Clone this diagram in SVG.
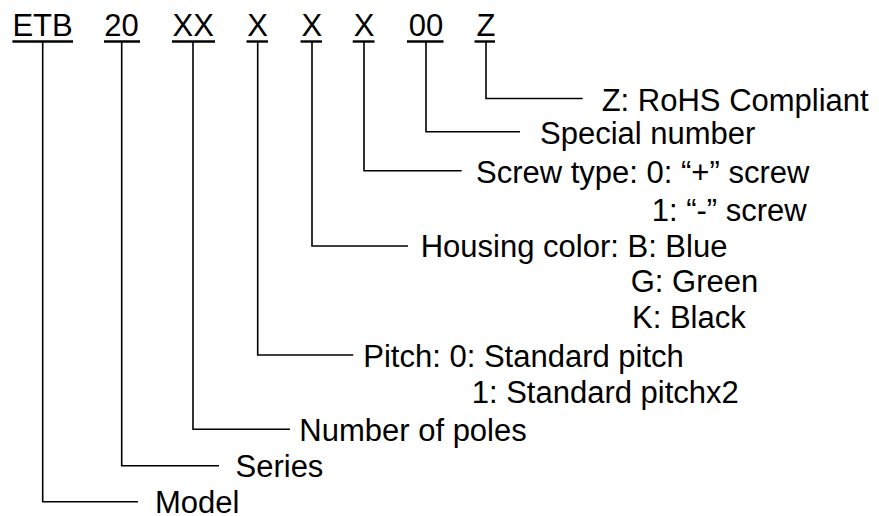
<svg xmlns="http://www.w3.org/2000/svg" width="879" height="516" viewBox="0 0 879 516">
<style>
text{font-family:"Liberation Sans",Arial,sans-serif;font-size:31px;fill:#000}
.ul{stroke:#000;stroke-width:2.4;fill:none}
.ln{stroke:#000;stroke-width:1.6;fill:none}
</style>
<rect width="879" height="516" fill="#fff"/>
<g id="code">
<g id="seg-etb"><text x="12.4" y="36">ETB</text><line class="ul" x1="12.4" y1="41.5" x2="73" y2="41.5"/></g>
<g id="seg-20"><text x="104.3" y="36">20</text><line class="ul" x1="104" y1="41.5" x2="140" y2="41.5"/></g>
<g id="seg-xx"><text x="172.5" y="36">XX</text><line class="ul" x1="172" y1="41.5" x2="215" y2="41.5"/></g>
<g id="seg-x1"><text x="247.3" y="36">X</text><line class="ul" x1="246.5" y1="41.5" x2="268" y2="41.5"/></g>
<g id="seg-x2"><text x="301.6" y="36">X</text><line class="ul" x1="300.5" y1="41.5" x2="322" y2="41.5"/></g>
<g id="seg-x3"><text x="353.7" y="36">X</text><line class="ul" x1="352.7" y1="41.5" x2="374.5" y2="41.5"/></g>
<g id="seg-00"><text x="408.8" y="36">00</text><line class="ul" x1="407" y1="41.5" x2="443.5" y2="41.5"/></g>
<g id="seg-z"><text x="476.5" y="36">Z</text><line class="ul" x1="474.5" y1="41.5" x2="495" y2="41.5"/></g>
</g>
<g id="connectors">
<polyline class="ln" points="486,42 486,98.5 582.7,98.5"/>
<polyline class="ln" points="426,42 426,131.7 520,131.7"/>
<polyline class="ln" points="364,42 364,170.7 461.7,170.7"/>
<polyline class="ln" points="312,42 312,246 408,246"/>
<polyline class="ln" points="257.7,42 257.7,355 353.3,355"/>
<polyline class="ln" points="193,42 193,429.3 290,429.3"/>
<polyline class="ln" points="121.7,42 121.7,465.7 219,465.7"/>
<polyline class="ln" points="42.7,42 42.7,501.7 138,501.7"/>
</g>
<g id="label-rohs"><text x="601.7" y="110.5">Z: RoHS Compliant</text></g>
<g id="label-special"><text x="540" y="143.5">Special number</text></g>
<g id="label-screw"><text x="476" y="183">Screw type: 0: “+” screw</text><text x="651.7" y="220.5">1: “-” screw</text></g>
<g id="label-housing"><text x="420.7" y="257">Housing color: B: Blue</text><text x="630.7" y="292">G: Green</text><text x="632" y="327.5">K: Black</text></g>
<g id="label-pitch"><text x="363.3" y="366.5">Pitch: 0: Standard pitch</text><text x="471.7" y="403">1: Standard pitchx2</text></g>
<g id="label-poles"><text x="299.3" y="440.5">Number of poles</text></g>
<g id="label-series"><text x="235.5" y="476.5">Series</text></g>
<g id="label-model"><text x="155" y="512.5">Model</text></g>
</svg>
